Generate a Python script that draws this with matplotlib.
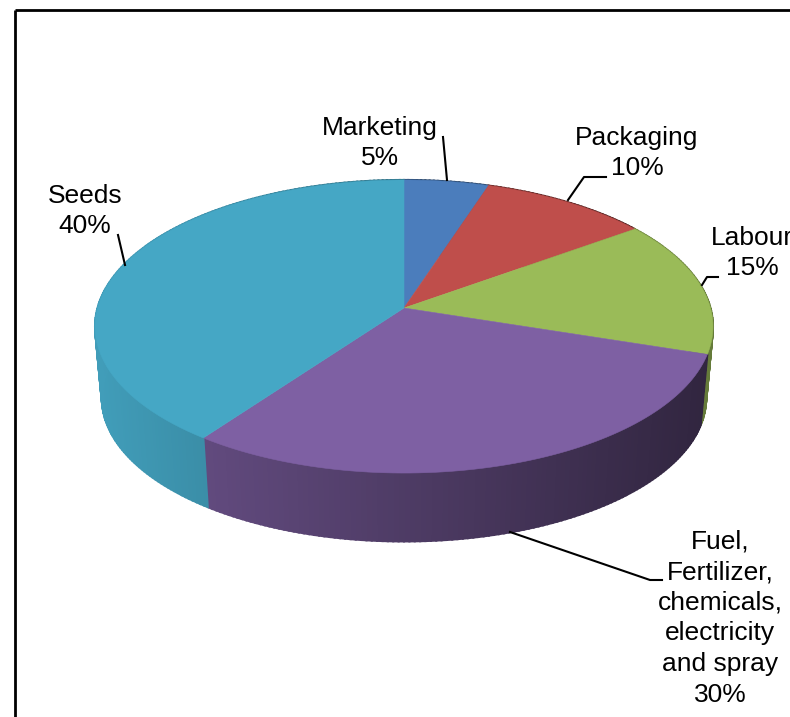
import matplotlib
matplotlib.use("Agg")
import matplotlib.pyplot as plt
import numpy as np

plt.rcParams['font.family'] = ['Liberation Sans', 'DejaVu Sans']

# clockwise from 12 o'clock
names = ["Marketing", "Packaging", "Labour", "Fuel,\nFertilizer,\nchemicals,\nelectricity\nand spray", "Seeds"]
shares = [5, 10, 15, 30, 40]
colors = ["#4B7DBC", "#BF4E4B", "#9ABB58", "#7E60A3", "#45A7C5"]
wall_gain = [1.0, 1.0, 1.7, 1.0, 1.1]

label_pos = [(380, 143), (637, 153), (752, 253), (720, 618), (85, 211)]
leaders = [
    [(443, 137), (447, 180)],
    [(606, 177), (584, 177), (568, 200)],
    [(718, 277), (707, 277), (702, 285)],
    [(662, 580), (650, 580), (510, 532)],
    [(118, 235), (125, 265)],
]

# projection of the tilted disc onto the image, in pixels
cx, cy = 404, 308
a, b, k = 306.5, 144.2, 0.1263
rim_scale, rim_drop = 0.978, 72


def top_point(ang):
    x, y = np.sin(ang), np.cos(ang)
    w = 1 + k * y
    return a * x / w, b * y / w


def shade(col, dx, gain):
    rgb = np.array(matplotlib.colors.to_rgb(col))
    f = np.clip((0.62 - 0.00076 * dx) * gain, 0, 1)
    return tuple(rgb * f)


fig = plt.figure(figsize=(7.9, 7.17), dpi=100)
ax = fig.add_axes([0, 0, 1, 1])
ax.set_xlim(0, 790)
ax.set_ylim(717, 0)
ax.axis("off")

# outer frame, right and bottom edges are cropped off in the picture
ax.plot([15, 15], [717, 10], color="black", lw=2.0, solid_capstyle="butt")
ax.plot([15, 790], [10, 10], color="black", lw=2.0, solid_capstyle="butt")

edges = np.cumsum([0] + shares) / sum(shares) * 2 * np.pi

# side wall, painted in small strips so the shading can run across it
for i, col in enumerate(colors):
    steps = max(int(shares[i] * 4), 8)
    angs = np.linspace(edges[i], edges[i + 1], steps + 1)
    for a0, a1 in zip(angs[:-1], angs[1:]):
        x0, y0 = top_point(a0)
        x1, y1 = top_point(a1)
        xs = [cx + x0, cx + x1, cx + x1 * rim_scale, cx + x0 * rim_scale]
        ys = [cy - y0, cy - y1, cy - y1 * rim_scale + rim_drop, cy - y0 * rim_scale + rim_drop]
        c = shade(col, (x0 + x1) / 2, wall_gain[i])
        ax.fill(xs, ys, color=c, lw=1.5, zorder=2)

# top face
for i, col in enumerate(colors):
    angs = np.linspace(edges[i], edges[i + 1], 80)
    px, py = top_point(angs)
    ax.fill(np.r_[cx, cx + px], np.r_[cy, cy - py], color=col, lw=0.4, zorder=3)

for i, pts in enumerate(leaders):
    ax.plot(*zip(*pts), color="black", lw=1.5, zorder=4)

for name, pct, (tx, ty) in zip(names, shares, label_pos):
    ax.text(tx, ty, f"{name}\n{pct}%", ha="center", va="center", fontsize=19,
            linespacing=1.35, color="black", zorder=5)

fig.savefig("out.png", dpi=100)
